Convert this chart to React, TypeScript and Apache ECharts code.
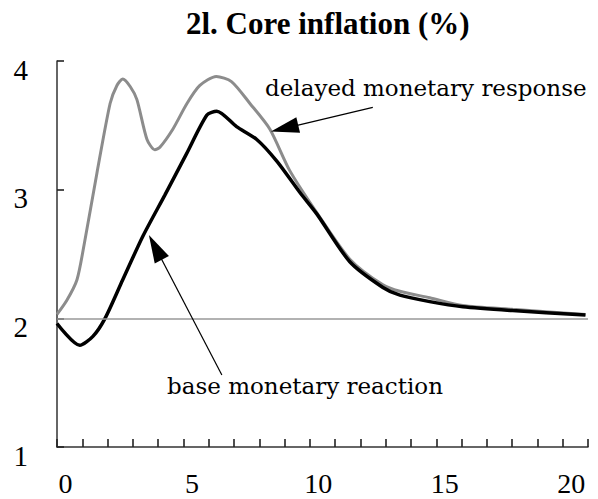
import React, { useEffect, useRef } from "react";
import * as echarts from "echarts";

const TITLE = "2l. Core inflation (%)";

// delayed monetary response (grey)
const delayedX = [0, 0.39, 0.79, 1.07, 1.58, 2.1, 2.37, 2.6, 2.9, 3.16, 3.56, 3.87, 4.07, 4.58, 5.14, 5.65, 6.3, 6.9, 7.63, 8.42, 9.2, 10.28, 11.58, 12.89, 13.56, 14.74, 16.05, 18.02, 20.9];
const delayedY = [2.03, 2.14, 2.3, 2.57, 3.13, 3.67, 3.81, 3.86, 3.8, 3.7, 3.39, 3.31, 3.33, 3.47, 3.67, 3.81, 3.88, 3.84, 3.67, 3.47, 3.15, 2.82, 2.46, 2.26, 2.21, 2.16, 2.1, 2.07, 2.03];

// base monetary reaction (black)
const baseX = [0, 0.9, 1.42, 1.9, 2.6, 3.4, 4.27, 5.1, 5.93, 6.32, 7.1, 7.9, 8.7, 9.6, 10.28, 11.58, 12.89, 13.56, 14.74, 16.05, 18.02, 20.9];
const baseY = [1.96, 1.79, 1.86, 2.0, 2.3, 2.64, 2.96, 3.27, 3.58, 3.61, 3.49, 3.39, 3.22, 2.98, 2.81, 2.44, 2.24, 2.18, 2.13, 2.09, 2.06, 2.025];

const xLabelValues = [0, 5, 10, 15, 20];
const baselineValue = 2;

const delayedLabel = "delayed monetary response";
const baseLabel = "base monetary reaction";
// annotation arrows in data coordinates: [tail, head]
const delayedArrow = [[12.49, 3.64], [9.0, 3.477]];
const baseArrow = [[6.52, 1.56], [3.89, 2.552]];

const FONT = "DejaVu Serif";
const TICK_FONT = "Liberation Serif";

export default function App() {
  const ref = useRef<HTMLDivElement>(null);
  useEffect(() => {
    document.body.style.margin = "0";
    if (!ref.current) return;
    const chart = echarts.init(ref.current, undefined, { renderer: "svg" });
    const zip = (xs: number[], ys: number[]) => xs.map((x, i) => [x, ys[i]]);
    const arrowLine = (a: number[][]) => [{ coord: a[0] }, { coord: a[1] }];
    const tickStyle = { color: "#222", width: 1.6 };
    chart.setOption({
      animation: false,
      title: {
        text: TITLE,
        left: 181,
        top: 3,
        textStyle: { fontFamily: TICK_FONT, fontWeight: "bold", fontSize: 31, color: "#000" },
      },
      grid: { left: 57, right: 10, top: 61, bottom: 52, containLabel: false, outerBoundsMode: "none" },
      xAxis: {
        type: "value",
        min: 0,
        max: 21,
        interval: 1,
        axisLine: { show: true, lineStyle: { color: "#333", width: 1.5 } },
        axisTick: { show: true, inside: true, length: 8, lineStyle: tickStyle },
        splitLine: { show: false },
        axisLabel: {
          formatter: (v: number) => (xLabelValues.includes(v) ? String(v) : ""),
          fontFamily: TICK_FONT,
          fontSize: 28,
          lineHeight: 28,
          color: "#000",
          margin: 22,
          padding: [0, 0, 0, 17],
        },
      },
      yAxis: {
        type: "value",
        min: 1,
        max: 4,
        interval: 1,
        axisLine: { show: true, lineStyle: { color: "#333", width: 1.5 } },
        axisTick: { show: true, inside: true, length: 7, lineStyle: tickStyle },
        splitLine: { show: false },
        axisLabel: {
          formatter: (v: number) => `{v|${v}}`,
          margin: 29,
          rich: {
            v: {
              fontFamily: TICK_FONT,
              fontSize: 29,
              color: "#000",
              padding: [17, 0, 0, 0],
            },
          },
        },
      },
      series: [
        {
          name: delayedLabel,
          type: "line",
          data: zip(delayedX, delayedY),
          showSymbol: false,
          symbol: "none",
          smooth: 0.25,
          lineStyle: { color: "#8c8c8c", width: 3 },
          z: 2,
          markLine: {
            silent: true,
            symbol: "none",
            label: { show: false },
            lineStyle: { color: "#999", width: 1.5, type: "solid" },
            data: [{ yAxis: baselineValue }],
          },
        },
        {
          name: baseLabel,
          type: "line",
          data: zip(baseX, baseY),
          showSymbol: false,
          symbol: "none",
          smooth: 0.25,
          lineStyle: { color: "#000", width: 3.5 },
          z: 3,
          markLine: {
            silent: true,
            symbol: ["none", "triangle"],
            symbolSize: [16, 28],
            label: { show: false },
            lineStyle: { color: "#000", width: 1.2, type: "solid" },
            itemStyle: { color: "#000" },
            data: [arrowLine(delayedArrow), arrowLine(baseArrow)],
          },
        },
      ],
      graphic: [
        {
          type: "text",
          left: 265,
          top: 76,
          style: { text: delayedLabel, font: `23px "${FONT}"`, fill: "#000" },
        },
        {
          type: "text",
          left: 167,
          top: 374,
          style: { text: baseLabel, font: `23px "${FONT}"`, fill: "#000" },
        },
      ],
    });
    return () => chart.dispose();
  }, []);
  return <div ref={ref} style={{ width: 598, height: 499 }} />;
}
